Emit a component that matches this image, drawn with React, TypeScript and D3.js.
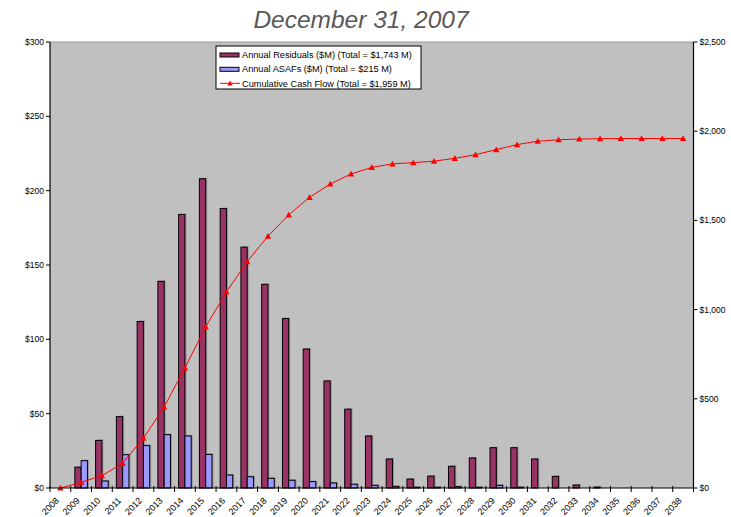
import React from "react";
import * as d3 from "d3";

const years = ["2008","2009","2010","2011","2012","2013","2014","2015","2016","2017","2018","2019","2020","2021","2022","2023","2024","2025","2026","2027","2028","2029","2030","2031","2032","2033","2034","2035","2036","2037","2038"];
const residuals = [0,14,32,48,112,139,184,208,188,162,137,114,93.5,72,53,35,19.5,6,8,14.6,20.2,27.1,27.1,19.5,7.8,2,0.6,0,0,0,0];
const asafs = [0,18.4,4.7,22.4,28.5,35.9,35,22.6,8.7,7.6,6.5,5.2,4.3,3.4,2.5,1.8,1.1,0.5,0.5,0.9,0.5,1.8,0.5,0,0,0,0,0,0,0,0];
const cumulative = [0,32,69,139,279,454,673,903,1099,1269,1412,1531,1629,1704,1760,1797,1817,1824,1832,1848,1868,1897,1925,1944,1952,1956,1958,1959,1959,1959,1959];
const leftTicks = [0,50,100,150,200,250,300];
const rightTicks = [0,500,1000,1500,2000,2500];
const legendLabels = [
  "Annual Residuals ($M) (Total = $1,743 M)",
  "Annual ASAFs ($M) (Total = $215 M)",
  "Cumulative Cash Flow (Total = $1,959 M)",
];
const title = "December 31, 2007";

const W = 731, H = 517;
const L = 50, R = 693.5, T = 42, B = 488;
const FONT = "'Liberation Sans', Arial, sans-serif";
const MAROON = "#993366";
const BLUE = "#9999FF";
const RED = "#FF0000";

export default function App() {
  const x = d3.scaleBand<string>().domain(years).range([L, R]).padding(0);
  const bw = x.bandwidth();
  const x1 = d3.scaleBand<string>().domain(["res", "asaf"]).range([0, bw]).paddingInner(0).paddingOuter(0.65);
  const yL = d3.scaleLinear().domain([0, 300]).range([B, T]);
  const yR = d3.scaleLinear().domain([0, 2500]).range([B, T]);
  const cx = (yr: string) => (x(yr) as number) + bw / 2;
  const line = d3.line<number>().x((_, i) => cx(years[i])).y((d) => yR(d));
  const fmtL = (v: number) => "$" + d3.format(",")(v);

  const tri = (px: number, py: number, s = 3.2) =>
    `M${px},${py - s} L${px + s},${py + s * 0.8} L${px - s},${py + s * 0.8} Z`;

  const bars: React.ReactNode[] = [];
  years.forEach((yr, i) => {
    const series = [
      { key: "res", v: residuals[i], c: MAROON },
      { key: "asaf", v: asafs[i], c: BLUE },
    ];
    series.forEach((s) => {
      if (s.v <= 0) return;
      const bx = (x(yr) as number) + (x1(s.key) as number);
      const by = yL(s.v);
      const h = B - by;
      bars.push(
        <g key={yr + s.key}>
          <rect x={bx + 1.5} y={by - 1} width={x1.bandwidth()} height={h + 1} fill="#6a6a6a" opacity={0.5} filter="url(#blur)" />
          <rect x={bx} y={by} width={x1.bandwidth()} height={h} fill={s.c} stroke="#000" strokeWidth={1} />
        </g>
      );
    });
  });

  return (
    <svg width={W} height={H} style={{ position: "absolute", left: 0, top: 0, background: "#fff" }} fontFamily={FONT}>
      <defs>
        <filter id="blur" x="-50%" y="-50%" width="200%" height="200%">
          <feGaussianBlur stdDeviation={0.7} />
        </filter>
      </defs>
      <rect x={0} y={0} width={W} height={H} fill="#fff" />
      <text x={361} y={28} textAnchor="middle" fontSize={24.5} fontStyle="italic" fill="#595959">{title}</text>
      <rect x={L} y={T} width={R - L} height={B - T} fill="#C0C0C0" />
      <line x1={L} x2={R} y1={T} y2={T} stroke="#9a9a9a" strokeWidth={1} />
      {bars}
      <path d={line(cumulative) || ""} fill="none" stroke={RED} strokeWidth={1} />
      {cumulative.map((v, i) => (
        <path key={"m" + i} d={tri(cx(years[i]), yR(v))} fill={RED} />
      ))}
      {/* axes */}
      <line x1={L} x2={L} y1={T} y2={B} stroke="#000" strokeWidth={1.2} />
      <line x1={R} x2={R} y1={T} y2={B} stroke="#000" strokeWidth={1.2} />
      <line x1={L} x2={R} y1={B} y2={B} stroke="#000" strokeWidth={1.2} />
      {leftTicks.map((t) => (
        <g key={"l" + t}>
          <line x1={L - 4} x2={L} y1={yL(t)} y2={yL(t)} stroke="#000" />
          <text x={L - 6} y={yL(t)} dy="0.35em" textAnchor="end" fontSize={8.5} fill="#000">{fmtL(t)}</text>
        </g>
      ))}
      {rightTicks.map((t) => (
        <g key={"r" + t}>
          <line x1={R} x2={R + 4} y1={yR(t)} y2={yR(t)} stroke="#000" />
          <text x={R + 6} y={yR(t)} dy="0.35em" textAnchor="start" fontSize={8.5} fill="#000">{fmtL(t)}</text>
        </g>
      ))}
      {years.map((yr) => (
        <line key={"xt" + yr} x1={x(yr) as number} x2={x(yr) as number} y1={B - 2} y2={B + 4} stroke="#000" />
      ))}
      <line x1={R} x2={R} y1={B - 2} y2={B + 4} stroke="#000" />
      {years.map((yr) => (
        <text key={"xl" + yr} transform={`translate(${cx(yr) - 3},${B + 11}) rotate(-45)`} textAnchor="end" dy="0.35em" fontSize={9} fill="#000">{yr}</text>
      ))}
      {/* legend */}
      <g>
        <rect x={216} y={46} width={205} height={43} fill="#fff" stroke="#000" strokeWidth={1} />
        <rect x={220} y={53} width={19} height={4} fill={MAROON} stroke="#000" strokeWidth={1} />
        <rect x={220} y={67.3} width={19} height={4} fill={BLUE} stroke="#000" strokeWidth={1} />
        <line x1={220} x2={240} y1={83.3} y2={83.3} stroke={RED} strokeWidth={1} />
        <path d={tri(230, 83.3, 2.8)} fill={RED} />
        {legendLabels.map((lb, i) => (
          <text key={lb} x={242} y={55 + i * 14.2} dy="0.35em" fontSize={9.2} fill="#000">{lb}</text>
        ))}
      </g>
    </svg>
  );
}
